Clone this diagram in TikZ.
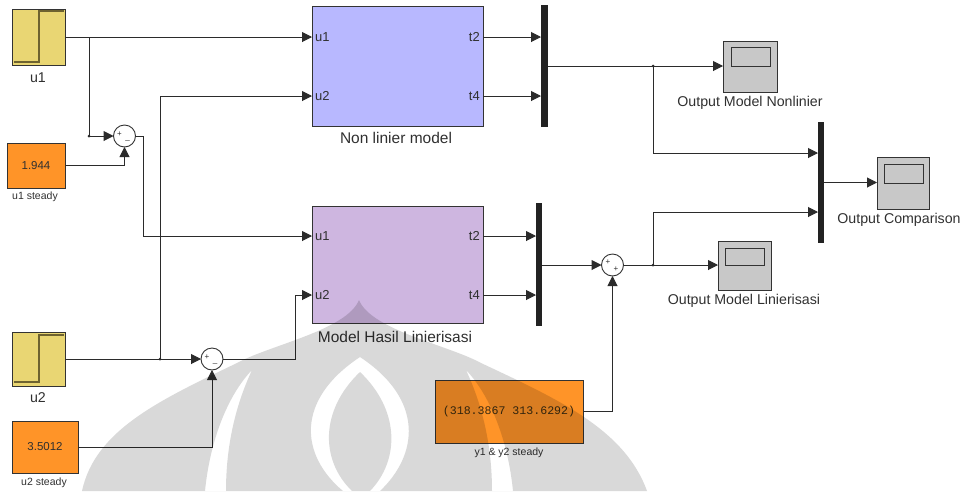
\documentclass[tikz,border=0pt]{standalone}
\usepackage{fontspec}
\setmainfont{Liberation Sans}
\newfontfamily\monofont{Liberation Mono}
\usetikzlibrary{arrows.meta}
\definecolor{wirec}{HTML}{2B2B2B}
\definecolor{bordc}{HTML}{333333}
\definecolor{txtc}{HTML}{303030}
\definecolor{stepc}{HTML}{E9D673}
\definecolor{steplinec}{HTML}{6E6330}
\definecolor{orangec}{HTML}{FF9428}
\definecolor{nlmc}{HTML}{B8B8FF}
\definecolor{linc}{HTML}{CEB6E0}
\definecolor{scopec}{HTML}{C8C8C8}
\definecolor{muxc}{HTML}{222222}
\definecolor{monoc}{HTML}{3A2A10}
\tikzset{
  wire/.style={draw=wirec, line width=1pt},
  arr/.style={wire, -{Triangle[length=10pt,width=10pt]}},
  blk/.style={draw=bordc, line width=0.9pt, inner sep=0pt, outer sep=0pt},
  sumblk/.style={circle, draw=bordc, fill=white, minimum size=22pt, inner sep=0pt, outer sep=0pt, line width=0.9pt},
  muxbar/.style={fill=muxc, draw=none, inner sep=0pt, outer sep=0pt},
  lbl/.style={text=txtc, inner sep=0pt, font=\fontsize{14.2}{15}\selectfont},
  mlbl/.style={text=txtc, inner sep=0pt, font=\fontsize{15.5}{16}\selectfont},
  slbl/.style={text=txtc, inner sep=0pt, font=\fontsize{10.5}{11}\selectfont},
  plbl/.style={text=txtc, inner sep=0pt, font=\fontsize{13}{13}\selectfont},
  sgn/.style={text=txtc, inner sep=0pt, font=\fontsize{8}{8}\selectfont},
  stepline/.style={draw=steplinec, line width=1.6pt},
  screen/.style={draw=bordc, fill=scopec, line width=0.8pt},
  bdot/.style={circle, fill=wirec, inner sep=0pt, minimum size=3pt},
  watermark/.style={fill=black, fill opacity=0.15, even odd rule}
}
\begin{document}
\begin{tikzpicture}[x=1pt,y=-1pt]
\useasboundingbox (0,0) rectangle (962,491);

% ---------- blocks ----------
\node[blk, fill=stepc, minimum width=53pt, minimum height=56pt] (u1) at (38.5,37) {};
\draw[stepline] (14,62) -- (39,62) -- (39,11) -- (64,11);
\node[lbl] (u1lbl) at (38,78) {u1};

\node[blk, fill=orangec, minimum width=58pt, minimum height=45pt, text=txtc, font=\fontsize{11.5}{12}\selectfont] (u1s) at (36,165.5) {1.944};
\node[slbl] (u1slbl) at (35,197) {u1 steady};

\node[sumblk] (s1) at (124.5,136) {};
\node[sgn] at (119.5,134) {+};
\node[sgn] at (127.5,140) {\_};

\node[blk, fill=stepc, minimum width=53pt, minimum height=54pt] (u2) at (38.5,359) {};
\draw[stepline] (14,382) -- (39,382) -- (39,335) -- (64,335);
\node[lbl] (u2lbl) at (38,398) {u2};

\node[blk, fill=orangec, minimum width=66pt, minimum height=52pt, text=txtc, font=\fontsize{11.5}{12}\selectfont] (u2s) at (45,447) {3.5012};
\node[slbl] (u2slbl) at (44,483) {u2 steady};

\node[sumblk] (s2) at (212,359) {};
\node[sgn] at (207,357) {+};
\node[sgn] at (215,363) {\_};

\node[blk, fill=nlmc, minimum width=171pt, minimum height=120pt] (nlm) at (397.5,66) {};
\node[mlbl] (nlmlbl) at (396,138) {Non linier model};
\coordinate (nlmi1) at (312,37);
\coordinate (nlmi2) at (312,96);
\coordinate (nlmo1) at (483,37);
\coordinate (nlmo2) at (483,96);
\node[plbl, anchor=west] at (315,37) {u1};
\node[plbl, anchor=west] at (315,96) {u2};
\node[plbl, anchor=east] at (480,37) {t2};
\node[plbl, anchor=east] at (480,96) {t4};

\node[blk, fill=linc, minimum width=171pt, minimum height=117pt] (lin) at (397.5,264.5) {};
\node[mlbl] (linlbl) at (395,337) {Model Hasil Linierisasi};
\coordinate (lini1) at (312,236);
\coordinate (lini2) at (312,295);
\coordinate (lino1) at (483,236);
\coordinate (lino2) at (483,295);
\node[plbl, anchor=west] at (315,236) {u1};
\node[plbl, anchor=west] at (315,295) {u2};
\node[plbl, anchor=east] at (480,236) {t2};
\node[plbl, anchor=east] at (480,295) {t4};

\node[muxbar, minimum width=7pt, minimum height=122pt] (m1) at (544.5,66) {};
\node[muxbar, minimum width=6pt, minimum height=123pt] (m2) at (539,264.5) {};
\node[muxbar, minimum width=6pt, minimum height=121pt] (m3) at (821,182.5) {};

\node[blk, fill=scopec, minimum width=54pt, minimum height=51pt] (sc1) at (750,66.5) {};
\draw[screen] (731,47) rectangle (770,66);
\node[lbl] (sc1lbl) at (750,103) {Output Model Nonlinier};

\node[blk, fill=scopec, minimum width=53pt, minimum height=49pt] (sc2) at (744.5,265.5) {};
\draw[screen] (725,248) rectangle (764,265);
\node[lbl] (sc2lbl) at (744,301) {Output Model Linierisasi};

\node[blk, fill=scopec, minimum width=52pt, minimum height=52pt] (sc3) at (903,183) {};
\draw[screen] (884,164) rectangle (923,183);
\node[lbl] (sc3lbl) at (899,220) {Output Comparison};

\node[sumblk] (s3) at (612.5,265) {};
\node[sgn] at (608,262) {+};
\node[sgn] at (616,269) {+};

\node[blk, fill=orangec, minimum width=148pt, minimum height=63pt, text=monoc, font=\monofont\fontsize{11.6}{12}\selectfont] (yss) at (509,411.5) {(318.3867 313.6292)};
\node[slbl] (ysslbl) at (509,453) {y1 \& y2 steady};

% ---------- wires ----------
\coordinate (b1) at (89,37);
\coordinate (b1d) at (89,136);
\coordinate (b2) at (160,359);
\coordinate (b3) at (653,66);
\coordinate (b4) at (653,265);
\coordinate (k1) at (143,136);
\coordinate (k2) at (295,359);

\draw[arr] (u1.east |- nlmi1) -- (nlmi1);
\draw[arr] (b1) -- (b1d) -- (s1.west);
\draw[arr] (u1s.east) -| (s1.south);
\draw[arr] (s1.east) -- (k1) |- (lini1);

\draw[arr] (u2.east) -- (s2.west);
\draw[arr] (b2) |- (nlmi2);
\draw[arr] (u2s.east |- 0,447) -| (s2.south);
\draw[arr] (s2.east) -- (k2) |- (lini2);

\draw[arr] (nlmo1) -- (m1.west |- nlmo1);
\draw[arr] (nlmo2) -- (m1.west |- nlmo2);
\draw[arr] (lino1) -- (m2.west |- lino1);
\draw[arr] (lino2) -- (m2.west |- lino2);

\draw[arr] (m1.east) -- (sc1.west |- m1.east);
\draw[arr] (b3) |- (m3.west |- 0,153);
\draw[arr] (m2.east |- s3) -- (s3.west);
\draw[arr] (yss.east) -| (s3.south);
\draw[arr] (s3.east) -- (sc2.west |- s3);
\draw[arr] (b4) |- (m3.west |- 0,212);
\draw[arr] (m3.east) -- (sc3.west |- m3.east);

\node[bdot] at (b1d) {};
\node[bdot] at (b2) {};
\node[bdot] at (b3) {};
\node[bdot] at (b4) {};

% ---------- watermark (translucent, on top) ----------
\fill[watermark]
  (82,491) .. controls (95,430) and (160,400) .. (237,363)
           .. controls (270,345) and (347,330) .. (359,300)
           .. controls (371,330) and (448,345) .. (481,363)
           .. controls (560,400) and (625,430) .. (647,491) -- cycle
  (205,491) .. controls (210,440) and (228,395) .. (252,370)
            .. controls (238,400) and (226,440) .. (226,491) -- cycle
  (513,491) .. controls (508,440) and (490,395) .. (466,370)
            .. controls (480,400) and (492,440) .. (492,491) -- cycle
  (343,491) .. controls (300,455) and (295,400) .. (360,357)
            .. controls (425,400) and (418,455) .. (380,491) -- cycle
  (352,491) .. controls (320,460) and (320,410) .. (360,372)
            .. controls (400,410) and (400,460) .. (370,491) -- cycle;
\end{tikzpicture}
\end{document}
